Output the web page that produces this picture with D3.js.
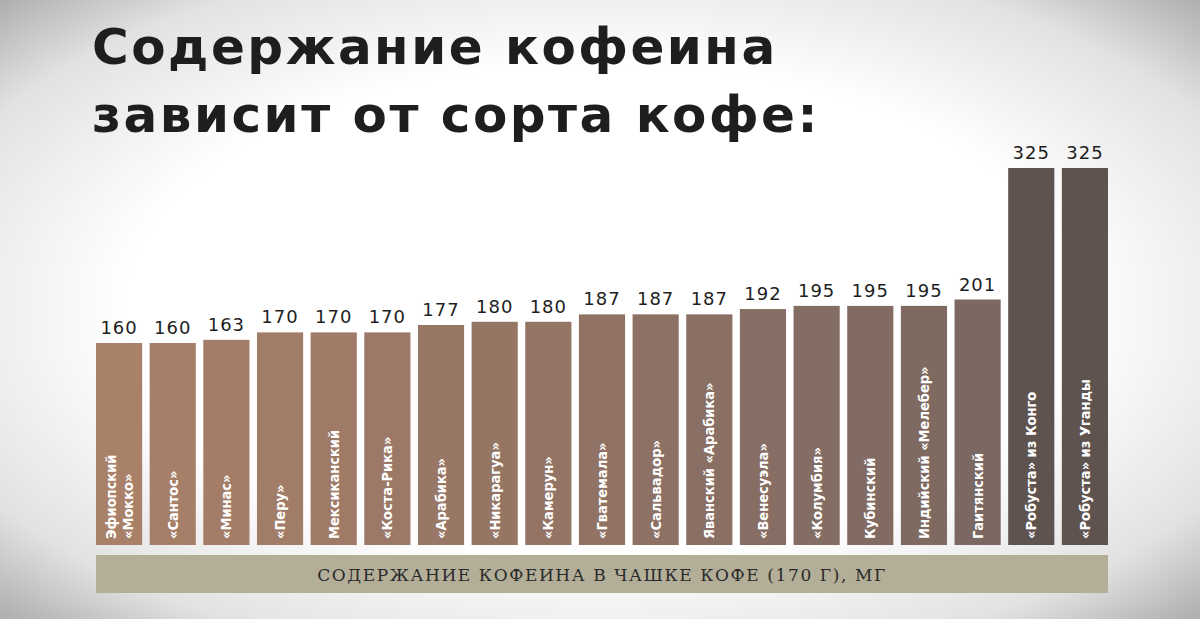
<!DOCTYPE html>
<html><head><meta charset="utf-8">
<script src="https://cdn.jsdelivr.net/npm/d3@7"></script>
<style>body{margin:0;background:#fff}</style></head>
<body><svg id="chart" width="1200" height="619"></svg>
<script>
var names = [["Эфиопский","«Мокко»"],["«Сантос»"],["«Минас»"],["«Перу»"],["Мексиканский"],["«Коста-Рика»"],["«Арабика»"],["«Никарагуа»"],["«Камерун»"],["«Гватемала»"],["«Сальвадор»"],["Яванский «Арабика»"],["«Венесуэла»"],["«Колумбия»"],["Кубинский"],["Индийский «Мелебер»"],["Гаитянский"],["«Робуста» из Конго"],["«Робуста» из Уганды"]];
var values = [160,160,163,170,170,170,177,180,180,187,187,187,192,195,195,195,201,325,325];
var titleLines = ["Содержание кофеина","зависит от сорта кофе:"];
var axisLabel = "СОДЕРЖАНИЕ КОФЕИНА В ЧАШКЕ КОФЕ (170 Г), МГ";

var svg = d3.select("#chart");
var defs = svg.append("defs");
var rg = defs.append("radialGradient").attr("id","vig").attr("cx","50%").attr("cy","50%").attr("r","72%");
rg.append("stop").attr("offset","0.55").attr("stop-color","#fff");
rg.append("stop").attr("offset","0.82").attr("stop-color","#e2e2e2");
rg.append("stop").attr("offset","1").attr("stop-color","#a8a8a8");
svg.append("rect").attr("width",1200).attr("height",619).attr("fill","url(#vig)");

svg.selectAll("text.title").data(titleLines).enter().append("text")
  .attr("x",92).attr("y",function(d,i){return 64+i*68})
  .attr("font-family","DejaVu Sans").attr("font-weight","bold").attr("font-size",50)
  .attr("letter-spacing",2.5)
  .attr("fill","#1e1e1e").text(function(d){return d});

var x = d3.scaleBand().domain(d3.range(values.length)).range([96,1108]).paddingInner(0.14).paddingOuter(0);
var y = d3.scaleLinear().domain([160,325]).range([343,168]);
var base = 545;
var col = d3.interpolateRgb("#a98068","#7c6862");
function color(i){ return i>=17 ? "#5f5350" : col(i/16); }

var g = svg.selectAll("g.bar").data(values).enter().append("g");
g.append("rect").attr("x",function(d,i){return x(i)}).attr("y",function(d){return y(d)})
  .attr("width",x.bandwidth()).attr("height",function(d){return base-y(d)})
  .attr("fill",function(d,i){return color(i)});
g.append("text").attr("x",function(d,i){return x(i)+x.bandwidth()/2}).attr("y",function(d){return y(d)-9})
  .attr("text-anchor","middle").attr("font-family","DejaVu Sans").attr("font-size",18).attr("letter-spacing",1)
  .attr("fill","#1e1e1e").text(function(d){return d});

names.forEach(function(lines,i){
  var cx = x(i)+x.bandwidth()/2;
  var t = svg.append("text").attr("transform","translate("+cx+","+(base-6)+") rotate(-90)")
    .attr("font-family","DejaVu Sans Condensed").attr("font-weight","bold").attr("font-size",14.5)
    .attr("fill","#fff");
  var n = lines.length;
  lines.forEach(function(l,j){
    t.append("tspan").attr("x",0).attr("y",(j-(n-1)/2)*17+5).text(l);
  });
});

svg.append("rect").attr("x",96).attr("y",555).attr("width",1012).attr("height",38).attr("fill","#b3ae98");
svg.append("text").attr("x",602).attr("y",581).attr("text-anchor","middle")
  .attr("font-family","DejaVu Serif").attr("font-size",17).attr("letter-spacing",1.6).attr("fill","#2a2a2a").text(axisLabel);
</script></body></html>
